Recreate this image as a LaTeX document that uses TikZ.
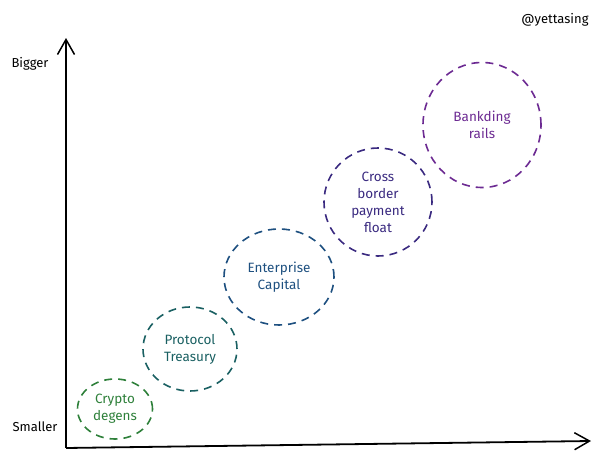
\documentclass[tikz,border=0pt]{standalone}
\usepackage{fontspec}
\setmainfont{Fira Sans}
\usetikzlibrary{positioning,shapes.geometric,arrows.meta}
\definecolor{degengreen}{RGB}{46,128,58}
\definecolor{treasuryteal}{RGB}{26,96,98}
\definecolor{capitalblue}{RGB}{30,80,128}
\definecolor{floatindigo}{RGB}{58,42,128}
\definecolor{railpurple}{RGB}{108,42,146}
\tikzset{bubble/.style={draw=#1,text=#1,ellipse,line width=1.6pt,dash pattern=on 8pt off 6pt,inner sep=0pt,align=center,font=\fontsize{13.5}{17}\selectfont},axis/.style={line width=1.8pt,-{Straight Barb[length=15pt,width=17pt,line width=1.5pt]}},tag/.style={font=\fontsize{13}{15}\selectfont}}

\begin{document}
\begin{tikzpicture}[x=1pt,y=-1pt]
\useasboundingbox (0,0) rectangle (598,455);
\coordinate (o) at (66,448);\coordinate (ytip) at (66,38);\coordinate (xtip) at (591,441);
\draw[axis] (o)--(ytip);\draw[axis] (o)--(xtip);
\node[tag] (big) at (30,64) {Bigger};
\node[tag] (small) at (35,427) {Smaller};
\node[tag] (handle) at (555,20) {@yettasing};
\node[bubble=degengreen,minimum width=75pt,minimum height=60pt] (crypto) at (115,409) {Crypto\\degens};
\node[bubble=treasuryteal,minimum width=94pt,minimum height=84pt] (treasury) at (190,349) {Protocol\\Treasury};
\node[bubble=capitalblue,minimum width=110pt,minimum height=96pt] (capital) at (279,277) {Enterprise\\Capital};
\node[bubble=floatindigo,minimum width=108pt,minimum height=108pt] (payfloat) at (378,202) {Cross\\border\\payment\\float};
\node[bubble=railpurple,minimum width=118pt,minimum height=125pt] (rails) at (482,125) {Bankding\\rails};
\end{tikzpicture}
\end{document}
